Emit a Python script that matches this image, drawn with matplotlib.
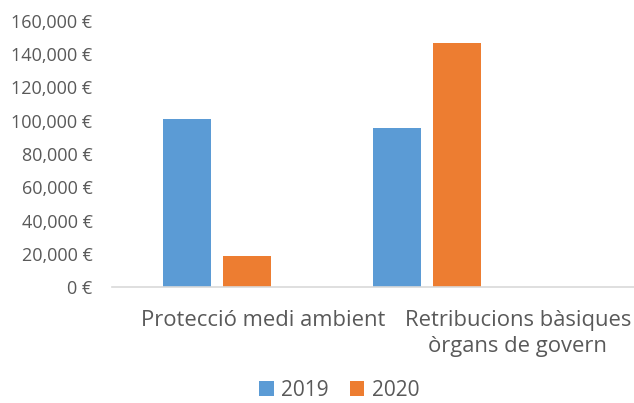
import matplotlib.pyplot as plt
import numpy as np
from matplotlib.ticker import FuncFormatter

categories = ["Protecció medi ambient", "Retribucions bàsiques\nòrgans de govern"]
years = ["2019", "2020"]
values_2019 = [101000, 95400]
values_2020 = [19000, 146400]
colors = ["#5B9BD5", "#ED7D31"]

plt.rcParams['font.family'] = ['Open Sans', 'DejaVu Sans']
grey = "#595959"

fig = plt.figure(figsize=(6.34, 4.03), dpi=100)
ax = fig.add_axes([0.1767, 0.287, 0.8233, 0.662])

x = np.arange(len(categories))
w = 0.228
ax.bar(x - 0.143, values_2019, w, color=colors[0], label=years[0])
ax.bar(x + 0.143, values_2020, w, color=colors[1], label=years[1])

ax.set_ylim(0, 160000)
ax.set_xlim(-0.5, 1.986)
ax.set_yticks(np.arange(0, 160001, 20000))
ax.yaxis.set_major_formatter(FuncFormatter(lambda v, p: f"{int(v):,} €"))
ax.tick_params(axis='y', length=0, labelsize=13, labelcolor=grey, pad=14)

# category labels sit off-centre in the original
ax.set_xticks([0.22, 1.433])
ax.set_xticklabels(categories, linespacing=1.35)
ax.tick_params(axis='x', length=0, labelsize=15.8, labelcolor=grey, pad=16)

for s in ['top', 'right', 'left']:
    ax.spines[s].set_visible(False)
ax.spines['bottom'].set_color("#D9D9D9")
ax.spines['bottom'].set_linewidth(1.2)

leg = fig.legend(loc='center', bbox_to_anchor=(0.535, 0.032), ncol=2, frameon=False,
                 fontsize=15, handlelength=0.7, handleheight=0.7, handletextpad=0.35,
                 columnspacing=1.0, borderpad=0.2)
for t in leg.get_texts():
    t.set_color(grey)

fig.savefig("out.png", dpi=100)
